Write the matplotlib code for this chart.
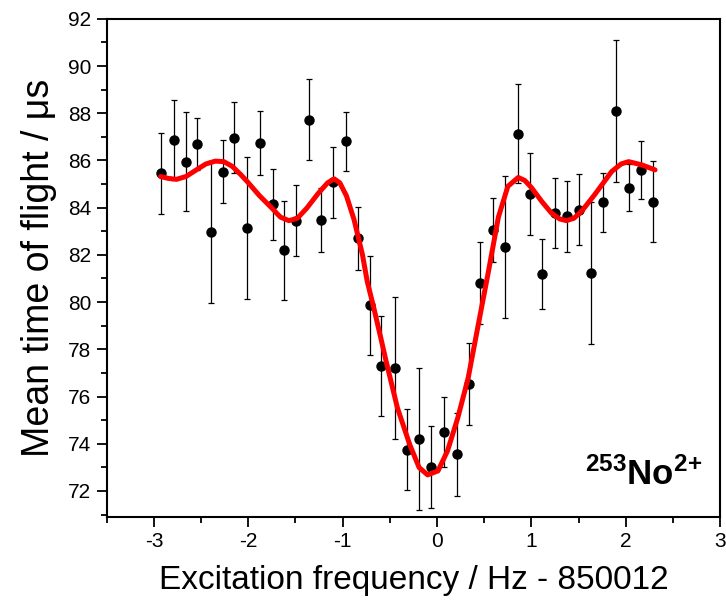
import numpy as np
import matplotlib
matplotlib.use("Agg")
import matplotlib.pyplot as plt
from matplotlib.ticker import MultipleLocator

plt.rcParams["font.family"] = ["Liberation Sans", "DejaVu Sans"]
plt.rcParams["axes.unicode_minus"] = False
plt.rcParams["mathtext.fontset"] = "custom"
plt.rcParams["mathtext.rm"] = "Liberation Sans"
plt.rcParams["mathtext.bf"] = "Liberation Sans:bold"

# measured mean time of flight vs. excitation frequency offset
freq = [-2.93, -2.79, -2.66, -2.54, -2.40, -2.27, -2.15, -2.01, -1.88, -1.74,
        -1.62, -1.49, -1.36, -1.23, -1.10, -0.97, -0.84, -0.71, -0.59, -0.45,
        -0.32, -0.19, -0.06, 0.07, 0.21, 0.34, 0.46, 0.59, 0.72, 0.86,
        0.98, 1.11, 1.25, 1.38, 1.50, 1.63, 1.76, 1.90, 2.03, 2.16, 2.29]
tof = [85.45, 86.88, 85.95, 86.70, 82.98, 85.53, 86.96, 83.13, 86.74, 84.14,
       82.19, 83.45, 87.73, 83.49, 85.07, 86.81, 82.70, 79.86, 77.29, 77.21,
       73.75, 74.19, 73.01, 74.50, 73.55, 76.52, 80.81, 83.06, 82.33, 87.14,
       84.57, 81.19, 83.77, 83.63, 83.92, 81.23, 84.22, 88.10, 84.85, 85.60, 84.26]
err = [1.7, 1.7, 2.1, 1.1, 3.0, 1.35, 1.5, 3.0, 1.35, 1.5,
       2.1, 1.5, 1.73, 1.35, 1.5, 1.24, 1.33, 2.1, 2.1, 3.0,
       1.73, 3.0, 1.73, 1.5, 1.75, 1.74, 1.73, 1.35, 3.0, 2.1,
       1.73, 1.5, 1.5, 1.5, 1.5, 3.0, 1.24, 3.0, 1.0, 1.22, 1.73]

# fitted line shape
fit_x = [-2.93, -2.85, -2.76, -2.66, -2.55, -2.45, -2.35, -2.26, -2.17, -2.08,
         -2.01, -1.88, -1.75, -1.66, -1.57, -1.48, -1.38, -1.26, -1.16, -1.09,
         -1.03, -0.96, -0.88, -0.79, -0.74, -0.67, -0.60, -0.54, -0.42, -0.29,
         -0.19, -0.10, 0.01, 0.11, 0.22, 0.33, 0.43, 0.54, 0.65, 0.75,
         0.86, 0.93, 1.00, 1.11, 1.21, 1.30, 1.37, 1.45, 1.53, 1.67,
         1.85, 1.95, 2.03, 2.17, 2.31]
fit_y = [85.32, 85.24, 85.20, 85.32, 85.60, 85.85, 85.97, 85.95, 85.75, 85.40,
         85.10, 84.50, 83.98, 83.60, 83.45, 83.55, 83.98, 84.60, 85.05, 85.22,
         85.05, 84.50, 83.50, 82.00, 80.88, 79.75, 78.55, 77.50, 75.52, 73.97,
         72.99, 72.68, 72.85, 73.69, 75.10, 76.79, 78.90, 81.20, 83.60, 84.90,
         85.28, 85.15, 84.85, 84.26, 83.78, 83.52, 83.45, 83.55, 83.84, 84.55,
         85.53, 85.85, 85.95, 85.81, 85.60]

fig = plt.figure(figsize=(7.26, 6.06), dpi=100)
ax = fig.add_axes([0.147, 0.147, 0.845, 0.822])

ax.errorbar(freq, tof, yerr=err, fmt="o", color="black", ms=6.5,
            ecolor="black", elinewidth=0.9, capsize=2, capthick=0.9, zorder=3)
ax.plot(fit_x, fit_y, color="#ff0000", lw=3.6, solid_joinstyle="round",
        solid_capstyle="round", zorder=4)

ax.set_xlim(-3.5, 3.0)
ax.set_ylim(70.9, 92.0)
ax.xaxis.set_major_locator(MultipleLocator(1))
ax.xaxis.set_minor_locator(MultipleLocator(0.5))
ax.yaxis.set_major_locator(MultipleLocator(2))
ax.yaxis.set_minor_locator(MultipleLocator(1))
ax.tick_params(which="both", direction="out", top=False, right=False,
               width=1.3, labelsize=15)
ax.tick_params(which="major", length=7, pad=4)
ax.tick_params(which="minor", length=4.5)
for s in ax.spines.values():
    s.set_linewidth(1.5)

ax.set_xlabel("Excitation frequency / Hz - 850012", fontsize=24, labelpad=10)
ax.set_ylabel("Mean time of flight / \u03bcs", fontsize=27, labelpad=8)

ax.text(0.97, 0.085, r"$\mathbf{^{253}No^{2{+}}}$", transform=ax.transAxes,
        ha="right", va="center", fontsize=25)

fig.savefig("out.png", dpi=100)
